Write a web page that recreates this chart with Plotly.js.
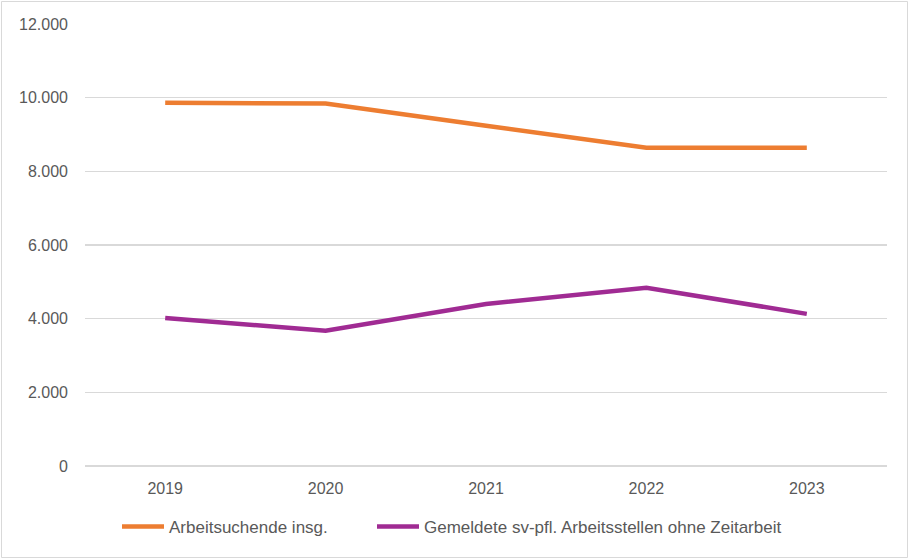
<!DOCTYPE html>
<html>
<head>
<meta charset="utf-8">
<script src="https://cdn.plot.ly/plotly-3.0.1.min.js"></script>
<style>html,body{margin:0;padding:0;background:#fff;}#chart{width:910px;height:560px;}</style>
</head>
<body>
<div id="chart"></div>
<script>
const years = ['2019', '2020', '2021', '2022', '2023'];
const arbeitsuchende = [9860, 9840, 9240, 8640, 8640];
const arbeitsstellen = [4020, 3670, 4400, 4840, 4130];
const yTicks = [0, 2000, 4000, 6000, 8000, 10000, 12000];

const W = 910, H = 560;
const m = {l: 85, r: 23, t: 24, b: 94};
const pw = W - m.l - m.r, ph = H - m.t - m.b;
const px = v => (v - m.l) / pw;
const py = v => (H - m.b - v) / ph;

const traces = [
  {x: years, y: arbeitsuchende, name: 'Arbeitsuchende insg.', type: 'scatter', mode: 'lines',
   line: {color: '#ED7D31', width: 4.5}, legend: 'legend'},
  {x: years, y: arbeitsstellen, name: 'Gemeldete sv-pfl. Arbeitsstellen ohne Zeitarbeit', type: 'scatter', mode: 'lines',
   line: {color: '#A02B93', width: 4.5}, legend: 'legend2'}
];

const legendBase = {orientation: 'h', xanchor: 'left', y: py(527), yanchor: 'middle', itemwidth: 42,
  font: {size: 17, color: '#595959'}, bgcolor: 'rgba(0,0,0,0)'};

const layout = {
  width: W, height: H,
  margin: m,
  paper_bgcolor: '#fff', plot_bgcolor: '#fff',
  separators: ',.',
  font: {family: 'Liberation Sans, Arial, sans-serif', color: '#595959', size: 16},
  showlegend: true,
  legend: Object.assign({}, legendBase, {x: px(117)}),
  legend2: Object.assign({}, legendBase, {x: px(372)}),
  xaxis: {type: 'category', range: [-0.5, 4.5], showgrid: false, zeroline: false, showline: false,
    ticks: '', ticklabelstandoff: 11, tickfont: {size: 16, color: '#595959'}, fixedrange: true},
  yaxis: {range: [0, 12000], tickvals: yTicks, tickformat: ',d', showgrid: true, gridcolor: '#d9d9d9', gridwidth: 1.5,
    zeroline: true, zerolinecolor: '#d9d9d9', zerolinewidth: 1.5, showline: false, ticks: '', ticklabelstandoff: 16,
    tickfont: {size: 16, color: '#595959'}, fixedrange: true},
  shapes: [{type: 'rect', xref: 'paper', yref: 'paper', x0: px(1.5), x1: px(907.5), y0: py(557.5), y1: py(1.5),
    line: {color: '#d9d9d9', width: 1}, fillcolor: 'rgba(0,0,0,0)', layer: 'below'}]
};

Plotly.newPlot('chart', traces, layout, {displayModeBar: false, staticPlot: true});
</script>
</body>
</html>
